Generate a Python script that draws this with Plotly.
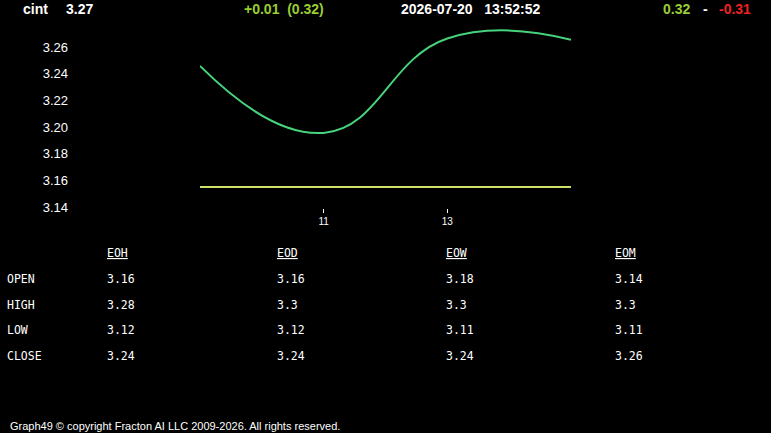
import plotly.graph_objects as go

# ---- data ----
x_vals = [9, 11, 13, 15]
green_vals = [3.2458, 3.1956, 3.2664, 3.2655]
yellow_vals = [3.155, 3.155, 3.155, 3.155]
y_tickvals = [3.14, 3.16, 3.18, 3.20, 3.22, 3.24, 3.26]
y_ticktext = ["3.14", "3.16", "3.18", "3.20", "3.22", "3.24", "3.26"]
x_tickvals = [11, 13]
x_ticktext = ["11", "13"]

col_headers = ["EOH", "EOD", "EOW", "EOM"]
row_labels = ["OPEN", "HIGH", "LOW", "CLOSE"]
table_vals = [
    ["3.16", "3.16", "3.18", "3.14"],
    ["3.28", "3.3", "3.3", "3.3"],
    ["3.12", "3.12", "3.11", "3.11"],
    ["3.24", "3.24", "3.24", "3.26"],
]

symbol = "cint"
last = "3.27"
change = "+0.01  (0.32)"
stamp = "2026-07-20   13:52:52"
hi_str = "0.32"
lo_str = "-0.31"
footer = "Graph49 © copyright Fracton AI LLC 2009-2026. All rights reserved."

W, H = 771, 433

def px(x):
    return x / W

def py(y):
    return 1 - y / H

fig = go.Figure()
fig.add_trace(go.Scatter(x=x_vals, y=green_vals, mode="lines",
                         line=dict(color="#46d37c", width=2, shape="spline", smoothing=1.3),
                         hoverinfo="skip", showlegend=False))
fig.add_trace(go.Scatter(x=x_vals, y=yellow_vals, mode="lines",
                         line=dict(color="#cfdf6a", width=2),
                         hoverinfo="skip", showlegend=False))

fig.update_layout(
    width=W, height=H,
    margin=dict(l=0, r=0, t=0, b=0),
    paper_bgcolor="#000000", plot_bgcolor="#000000",
    showlegend=False,
    xaxis=dict(range=[9, 15], domain=[px(200), px(571)], anchor="free", position=py(208),
               tickvals=x_tickvals, ticktext=x_ticktext, ticks="outside", ticklen=4,
               tickcolor="#ffffff", tickwidth=1,
               tickfont=dict(family="Arial", size=10, color="#ffffff"),
               showgrid=False, zeroline=False, showline=False, fixedrange=True),
    yaxis=dict(range=[3.135, 3.275], domain=[py(213.7), py(27)], anchor="free", position=px(68),
               tickvals=y_tickvals, ticktext=y_ticktext, ticks="",
               tickfont=dict(family="Arial", size=13, color="#ffffff"),
               showgrid=False, zeroline=False, showline=False, fixedrange=True),
)

annotations = []

def add_text(x, y, text, size, color, family="Arial", bold=False, xanchor="left"):
    t = f"<b>{text}</b>" if bold else text
    annotations.append(dict(x=px(x), y=py(y), xref="paper", yref="paper", text=t,
                            showarrow=False, xanchor=xanchor, yanchor="middle",
                            font=dict(family=family, size=size, color=color)))

# header
add_text(21, 9, symbol, 14, "#ffffff", bold=True)
add_text(64, 9, last, 14, "#ffffff", bold=True)
add_text(242, 9, change.replace(" ", "&nbsp;"), 14, "#9acd32", bold=True)
add_text(399, 9, stamp.replace(" ", "&nbsp;"), 14, "#ffffff", bold=True)
add_text(661, 9, hi_str, 14, "#9acd32", bold=True)
add_text(701, 9, "-", 14, "#ffffff", bold=True)
add_text(717, 9, lo_str, 14, "#ee2222", bold=True)

# table
mono = "DejaVu Sans Mono"
col_x = [105, 275, 444, 613]
row_y = [279, 305, 330, 356]
for cx, h in zip(col_x, col_headers):
    add_text(cx, 253, f"<u>{h}</u>", 11.5, "#ffffff", family=mono)
for ry, lab in zip(row_y, row_labels):
    add_text(5, ry, lab, 11.5, "#ffffff", family=mono)
for ry, row in zip(row_y, table_vals):
    for cx, v in zip(col_x, row):
        add_text(cx, ry, v, 11.5, "#ffffff", family=mono)

# footer
add_text(8, 426, footer, 11, "#ffffff")

fig.update_layout(annotations=annotations)
fig.write_html("out.html")
